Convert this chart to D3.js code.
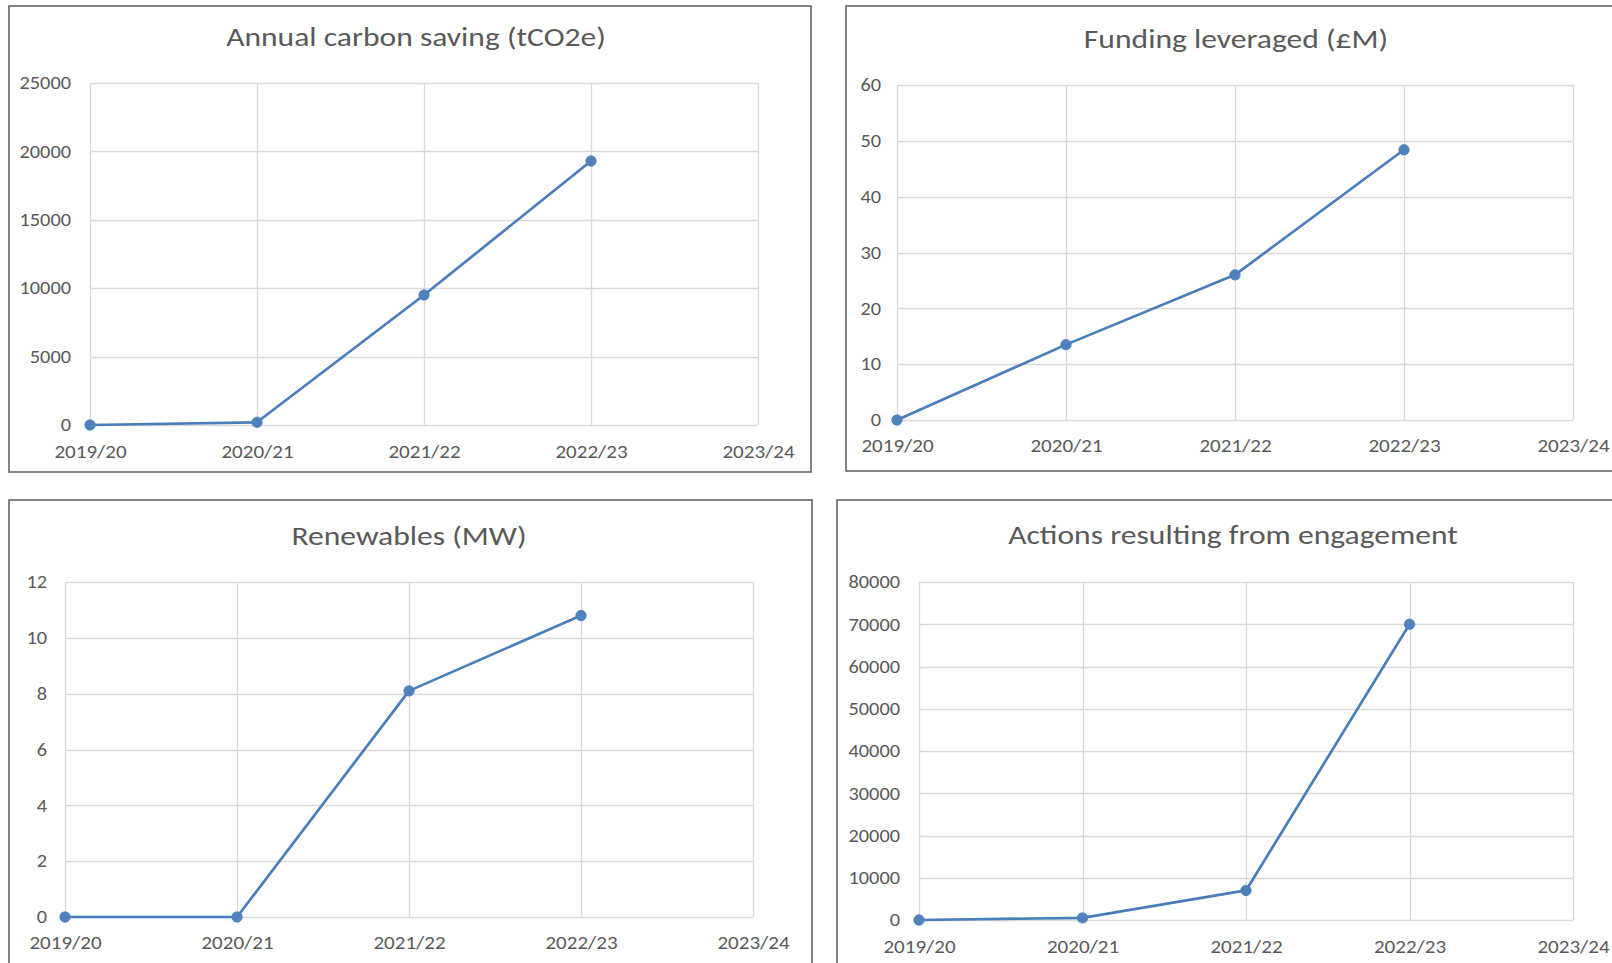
<!DOCTYPE html>
<html>
<head>
<meta charset="utf-8">
<script src="https://cdn.jsdelivr.net/npm/d3@7"></script>
<style>
  html, body { margin: 0; padding: 0; background: #ffffff; }
  svg { display: block; }
</style>
</head>
<body>
<svg id="chart" width="1612" height="963"></svg>
<script>
// ---- Data ----
const categories = ["2019/20", "2020/21", "2021/22", "2022/23", "2023/24"];

const carbonTitle = "Annual carbon saving (tCO2e)";
const carbonValues = [0, 200, 9500, 19300];
const carbonTicks = [0, 5000, 10000, 15000, 20000, 25000];

const fundingTitle = "Funding leveraged (£M)";
const fundingValues = [0, 13.5, 26, 48.4];
const fundingTicks = [0, 10, 20, 30, 40, 50, 60];

const renewablesTitle = "Renewables (MW)";
const renewablesValues = [0, 0, 8.1, 10.8];
const renewablesTicks = [0, 2, 4, 6, 8, 10, 12];

const actionsTitle = "Actions resulting from engagement";
const actionsValues = [0, 500, 7000, 70000];
const actionsTicks = [0, 10000, 20000, 30000, 40000, 50000, 60000, 70000, 80000];

// ---- Style ----
const FONT = "Carlito, Calibri, 'Open Sans', sans-serif";
const TEXT = "#595959";
const GRID = "#d9d9d9";
const BORDER = "#6e6e6e";
const LINE = "#4a7ebb";
const MARK = "#4f81bd";
const STRETCH = 1.17;   // reference text is horizontally widened
const YSTRETCH = 1.13;

const svg = d3.select("#chart");

function drawPanel(p) {
  const g = svg.append("g");
  // outer frame
  g.append("rect")
    .attr("x", p.box[0]).attr("y", p.box[1])
    .attr("width", p.box[2]).attr("height", p.box[3])
    .attr("fill", "#fff").attr("stroke", BORDER).attr("stroke-width", 1.7);

  const x = d3.scalePoint().domain(categories).range([p.plot[0], p.plot[1]]).padding(0);
  const y = d3.scaleLinear().domain([0, d3.max(p.ticks)]).range([p.plot[3], p.plot[2]]);

  // horizontal gridlines
  g.append("g").selectAll("line").data(p.ticks).join("line")
    .attr("x1", p.plot[0]).attr("x2", p.plot[1])
    .attr("y1", d => Math.round(y(d)) + 0.5).attr("y2", d => Math.round(y(d)) + 0.5)
    .attr("stroke", GRID).attr("stroke-width", 1.3);
  // vertical gridlines
  g.append("g").selectAll("line").data(categories).join("line")
    .attr("x1", d => Math.round(x(d)) + 0.5).attr("x2", d => Math.round(x(d)) + 0.5)
    .attr("y1", p.plot[2]).attr("y2", p.plot[3])
    .attr("stroke", GRID).attr("stroke-width", 1.3);

  // y axis labels
  const yAxis = d3.axisLeft(y).tickValues(p.ticks).tickSize(0).tickPadding(0).tickFormat(d3.format("d"));
  const ya = g.append("g").attr("transform", `translate(${p.yLabelRight},0)`).call(yAxis);
  ya.select(".domain").remove();
  ya.selectAll("text").attr("fill", TEXT).attr("x", 0)
    .attr("transform", `scale(${YSTRETCH},1)`)
    .style("font-family", FONT).style("font-size", p.tickSize + "px");

  // x axis labels
  const xAxis = d3.axisBottom(x).tickSize(0).tickPadding(0);
  const xa = g.append("g").attr("transform", `translate(0,${p.xLabelY})`).call(xAxis);
  xa.select(".domain").remove();
  xa.selectAll("text").attr("fill", TEXT).attr("dy", "0.32em").attr("y", 0)
    .attr("transform", `scale(${STRETCH},1)`)
    .style("font-family", FONT).style("font-size", p.tickSize + "px");

  // title
  g.append("text")
    .attr("transform", `translate(${p.titleX},${p.titleY}) scale(${STRETCH},1)`)
    .attr("text-anchor", "middle")
    .attr("fill", TEXT)
    .style("font-family", FONT).style("font-size", p.titleSize + "px")
    .text(p.title);

  // line
  const pts = p.values.map((v, i) => [categories[i], v]);
  g.append("path").datum(pts)
    .attr("fill", "none").attr("stroke", LINE).attr("stroke-width", 2.7)
    .attr("stroke-linejoin", "round").attr("stroke-linecap", "round")
    .attr("d", d3.line().x(d => x(d[0])).y(d => y(d[1])));
  g.append("g").selectAll("circle").data(pts).join("circle")
    .attr("cx", d => x(d[0])).attr("cy", d => y(d[1])).attr("r", 5.2)
    .attr("fill", MARK).attr("stroke", LINE).attr("stroke-width", 0.8);
}

drawPanel({
  title: carbonTitle, values: carbonValues, ticks: carbonTicks,
  box: [9, 6, 802, 466], plot: [90, 758, 83, 425],
  yLabelRight: 71, xLabelY: 452, titleX: 416, titleY: 46, titleSize: 27, tickSize: 18
});
drawPanel({
  title: fundingTitle, values: fundingValues, ticks: fundingTicks,
  box: [846, 6, 820, 465], plot: [897, 1573, 85, 420],
  yLabelRight: 881, xLabelY: 446, titleX: 1236, titleY: 48, titleSize: 27, tickSize: 18
});
drawPanel({
  title: renewablesTitle, values: renewablesValues, ticks: renewablesTicks,
  box: [9, 500, 803, 500], plot: [65, 753, 582, 917],
  yLabelRight: 47, xLabelY: 943, titleX: 409, titleY: 545, titleSize: 27, tickSize: 18
});
drawPanel({
  title: actionsTitle, values: actionsValues, ticks: actionsTicks,
  box: [837, 500, 820, 500], plot: [919, 1573, 582, 920],
  yLabelRight: 900, xLabelY: 947, titleX: 1233, titleY: 544, titleSize: 27, tickSize: 18
});
</script>
</body>
</html>
